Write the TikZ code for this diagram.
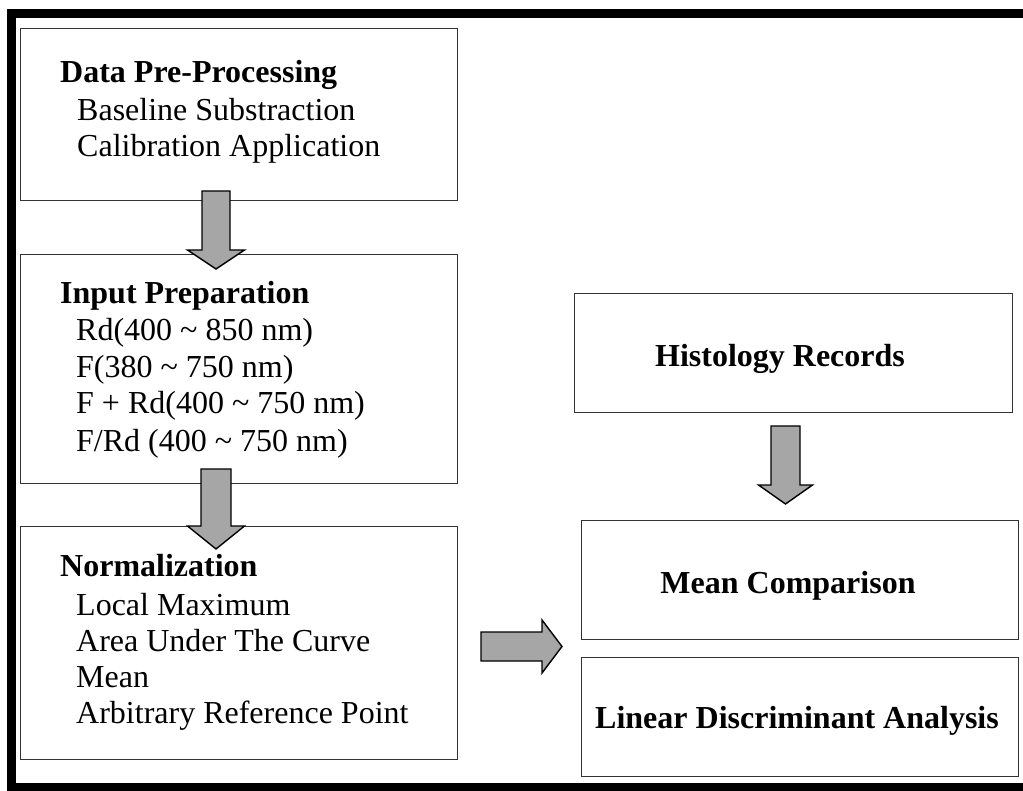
\documentclass[tikz,border=0pt]{standalone}
\usepackage{fontspec}
\setmainfont{Liberation Serif}
\usetikzlibrary{calc}
\definecolor{boxline}{HTML}{333333}
\definecolor{arrowgray}{HTML}{A6A6A6}
\tikzset{
  box/.style={draw=boxline, line width=1.4pt, fill=white, inner sep=0pt, anchor=north west},
  txt/.style={inner sep=0pt, anchor=base west, font=\fontsize{32}{36}\selectfont},
  ttl/.style={inner sep=0pt, anchor=base west, font=\fontsize{32}{36}\selectfont\bfseries},
  ctr/.style={inner sep=0pt, anchor=base, font=\fontsize{32}{36}\selectfont\bfseries},
  blockarrow/.style={draw=black, line width=1.4pt, fill=arrowgray, line join=miter},
}
% #1 start, #2 end, #3 shaft half width, #4 head half width, #5 head length
\newcommand\blockarr[5]{%
  \coordinate (hb) at ($(#2)!#5!(#1)$);
  \draw[blockarrow] ($(#1)!#3!90:(#2)$) -- ($(hb)!#3!90:(#2)$) -- ($(hb)!#4!90:(#2)$)
    -- (#2) -- ($(hb)!#4!-90:(#2)$) -- ($(hb)!#3!-90:(#2)$) -- ($(#1)!#3!-90:(#2)$) -- cycle;
}
\begin{document}
\begin{tikzpicture}[x=1pt,y=-1pt]
\useasboundingbox (0,0) rectangle (1023,791);
% frame
\draw[line width=9pt, line join=miter] (1023,13.5) -- (11,13.5) -- (11,787) -- (1023,787);
% boxes
\node[box, minimum width=437pt, minimum height=172pt] (b1) at (20,28) {};
\node[box, minimum width=437pt, minimum height=229pt] (b2) at (20,254) {};
\node[box, minimum width=437pt, minimum height=233pt] (b3) at (20,526) {};
\node[box, minimum width=438pt, minimum height=119pt] (b4) at (574,293) {};
\node[box, minimum width=437pt, minimum height=119pt] (b5) at (581,520) {};
\node[box, minimum width=437pt, minimum height=119pt] (b6) at (581,657) {};
% texts box 1
\node[ttl] (t1) at (60,83) {Data Pre-Processing};
\node[txt] (t1a) at (77,121) {Baseline Substraction};
\node[txt] (t1b) at (77,157) {Calibration Application};
% texts box 2
\node[ttl] (t2) at (60,304) {Input Preparation};
\node[txt] (t2a) at (76,341) {Rd(400 \textasciitilde{} 850 nm)};
\node[txt] (t2b) at (76,378) {F(380 \textasciitilde{} 750 nm)};
\node[txt] (t2c) at (76,414) {F + Rd(400 \textasciitilde{} 750 nm)};
\node[txt] (t2d) at (76,451) {F/Rd (400 \textasciitilde{} 750 nm)};
% texts box 3
\node[ttl] (t3) at (60,576) {Normalization};
\node[txt] (t3a) at (76,615) {Local Maximum};
\node[txt] (t3b) at (76,651) {Area Under The Curve};
\node[txt] (t3c) at (76,687) {Mean};
\node[txt] (t3d) at (76,723) {Arbitrary Reference Point};
% right texts
\node[ctr] (t4) at (780,367) {Histology Records};
\node[ctr] (t5) at (788,593) {Mean Comparison};
\node[ctr] (t6) at (797,728) {Linear Discriminant Analysis};
% arrows
\coordinate (a1s) at (216,191);   \coordinate (a1e) at (216,269);
\coordinate (a2s) at (216,469);   \coordinate (a2e) at (216,549);
\coordinate (a3s) at (785.5,426); \coordinate (a3e) at (785.5,504);
\coordinate (a4s) at (481,646.5); \coordinate (a4e) at (562,646.5);
\blockarr{a1s}{a1e}{14pt}{28.5pt}{19pt}
\blockarr{a2s}{a2e}{15pt}{28.5pt}{23pt}
\blockarr{a3s}{a3e}{14.5pt}{27pt}{19pt}
\blockarr{a4s}{a4e}{14.5pt}{26.5pt}{20pt}
\end{tikzpicture}
\end{document}
